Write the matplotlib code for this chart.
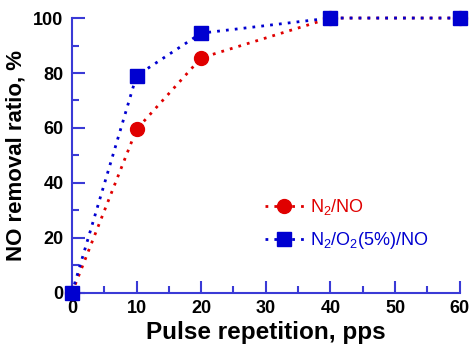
import numpy as np
import matplotlib.pyplot as plt
from matplotlib.ticker import MultipleLocator

## data
pulse = [0, 10, 20, 40, 60]
ratio_n2 = [0, 59.5, 85.5, 100, 100]
ratio_n2_o2 = [0, 79, 94.5, 100, 100]

plt.rcParams['font.family'] = ['Liberation Sans', 'DejaVu Sans']
plt.rcParams['mathtext.fontset'] = 'custom'
plt.rcParams['mathtext.rm'] = 'Liberation Sans'

fig = plt.figure(figsize=(4.7, 3.47), dpi=100)
ax = fig.add_axes([0.153, 0.156, 0.825, 0.792])

red = '#e00000'
blue = '#0000d0'
axis_col = '#3a3ad6'

ax.plot(pulse, ratio_n2, color=red, linestyle=(0, (1, 2.2)), linewidth=2,
        marker='o', markersize=10, clip_on=False, zorder=3, label='N$_\\mathrm{2}$/NO')
ax.plot(pulse, ratio_n2_o2, color=blue, linestyle=(0, (1, 2.2)), linewidth=2,
        marker='s', markersize=10, clip_on=False, zorder=4,
        label='N$_\\mathrm{2}$/O$_\\mathrm{2}$(5%)/NO')

ax.set_xlim(0, 60)
ax.set_ylim(0, 100)
ax.xaxis.set_major_locator(MultipleLocator(10))
ax.xaxis.set_minor_locator(MultipleLocator(5))
ax.yaxis.set_major_locator(MultipleLocator(20))
ax.yaxis.set_minor_locator(MultipleLocator(10))

for s in ['top', 'right']:
    ax.spines[s].set_visible(False)
for s in ['left', 'bottom']:
    ax.spines[s].set_color(axis_col)
    ax.spines[s].set_linewidth(1.5)

ax.tick_params(which='both', direction='in', color=axis_col, width=1.5)
ax.tick_params(which='major', length=9, labelsize=13)
ax.tick_params(axis='x', which='major', pad=5)
ax.tick_params(axis='y', which='major', pad=6)
ax.tick_params(which='minor', length=5)
for lab in ax.get_xticklabels() + ax.get_yticklabels():
    lab.set_fontweight('bold')

ax.set_xlabel('Pulse repetition, pps', fontsize=17.5, fontweight='bold', labelpad=3)
ax.set_ylabel('NO removal ratio, %', fontsize=16, fontweight='bold', labelpad=5)

leg = ax.legend(loc='center left', bbox_to_anchor=(0.455, 0.25), frameon=False,
                fontsize=13, handlelength=2.2, handletextpad=0.3, labelspacing=0.7)
for txt, c in zip(leg.get_texts(), [red, blue]):
    txt.set_color(c)

fig.savefig('out.png', dpi=100)
